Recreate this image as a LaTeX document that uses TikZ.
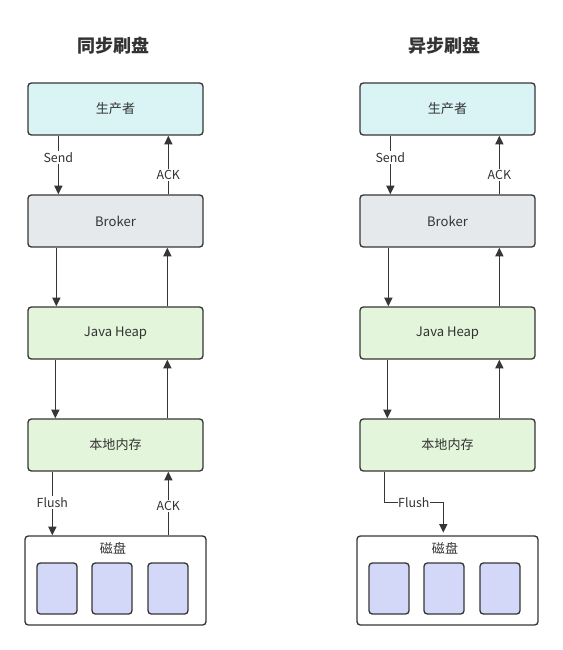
\documentclass[tikz,border=0pt]{standalone}
\usepackage{fontspec}
\setmainfont{Noto Sans CJK SC}
\usepackage{tikz}
\usetikzlibrary{arrows.meta,calc}
\definecolor{edgegray}{HTML}{363636}
\definecolor{txtgray}{HTML}{333333}
\definecolor{prodfill}{HTML}{DAF4F5}
\definecolor{brokerfill}{HTML}{E6E9EC}
\definecolor{memfill}{HTML}{E3F5DA}
\definecolor{blockfill}{HTML}{D4D8F8}

\begin{document}
\begin{tikzpicture}[x=0.75pt,y=0.75pt,yscale=-1,xscale=1,
	box/.style={draw=edgegray, line width=1pt, rounded corners=2.5pt, minimum width=131.25pt, minimum height=39pt, inner sep=0pt, text=txtgray, font=\fontsize{9.8}{11}\selectfont},
	diskbox/.style={draw=edgegray, line width=1pt, rounded corners=2.5pt, fill=white, minimum width=135.75pt, minimum height=66.75pt, inner sep=0pt},
	block/.style={draw=edgegray, line width=1pt, rounded corners=2.5pt, fill=blockfill, minimum width=30pt, minimum height=38.25pt, inner sep=0pt},
	arr/.style={draw=edgegray, line width=1.1pt, -{Triangle[length=6.5pt,width=6pt]}},
	lbl/.style={fill=white, inner sep=1pt, text=txtgray, font=\fontsize{9.3}{10}\selectfont},
	ttl/.style={text=txtgray, font=\fontsize{13.5}{15}\selectfont\bfseries}]
	\useasboundingbox (0,0) rectangle (563,650);

	% Titles
	\node [ttl] (titleL) at (113,46) {同步刷盘};
	\node [ttl] (titleR) at (444,46) {异步刷盘};

	% Left column
	\node [box, fill=prodfill] (prodL) at (115.5,109) {生产者};
	\node [box, fill=brokerfill] (brokerL) at (115.5,221) {Broker};
	\node [box, fill=memfill] (heapL) at (115.5,333) {Java Heap};
	\node [box, fill=memfill] (memL) at (115.5,445) {本地内存};
	\node [diskbox] (diskL) at (115.5,580.5) {};
	\node [text=txtgray, font=\fontsize{9.8}{11}\selectfont] (diskLtxt) at (113,548) {磁盘};
	\node [block] (blkLa) at (57,588.5) {};
	\node [block] (blkLb) at (112,588.5) {};
	\node [block] (blkLc) at (168,588.5) {};

	% Right column
	\node [box, fill=prodfill] (prodR) at (447.5,109) {生产者};
	\node [box, fill=brokerfill] (brokerR) at (447.5,221) {Broker};
	\node [box, fill=memfill] (heapR) at (447.5,333) {Java Heap};
	\node [box, fill=memfill] (memR) at (447.5,445) {本地内存};
	\node [diskbox] (diskR) at (447.5,580.5) {};
	\node [text=txtgray, font=\fontsize{9.8}{11}\selectfont] (diskRtxt) at (445,548) {磁盘};
	\node [block] (blkRa) at (389,588.5) {};
	\node [block] (blkRb) at (444,588.5) {};
	\node [block] (blkRc) at (500,588.5) {};

	%Straight Lines left
	\draw [arr] ($(prodL.south west)+(31,0)$) -- node [lbl, pos=0.37] {Send} ($(brokerL.north west)+(31,0)$);
	\draw [arr] ($(brokerL.north west)+(141,0)$) -- node [lbl, pos=0.33] {ACK} ($(prodL.south west)+(141,0)$);
	\draw [arr] ($(brokerL.south west)+(29,0)$) -- ($(heapL.north west)+(29,0)$);
	\draw [arr] ($(heapL.north west)+(140,0)$) -- ($(brokerL.south west)+(140,0)$);
	\draw [arr] ($(heapL.south west)+(28,0)$) -- ($(memL.north west)+(28,0)$);
	\draw [arr] ($(memL.north west)+(140,0)$) -- ($(heapL.south west)+(140,0)$);
	\draw [arr] ($(memL.south west)+(25,0)$) -- node [lbl, pos=0.48] {Flush} ($(diskL.north west)+(28,0)$);
	\draw [arr] ($(diskL.north west)+(144,0)$) -- node [lbl, pos=0.46] {ACK} ($(memL.south west)+(141,0)$);

	%Straight Lines right
	\draw [arr] ($(prodR.south west)+(31,0)$) -- node [lbl, pos=0.37] {Send} ($(brokerR.north west)+(31,0)$);
	\draw [arr] ($(brokerR.north west)+(140,0)$) -- node [lbl, pos=0.33] {ACK} ($(prodR.south west)+(140,0)$);
	\draw [arr] ($(brokerR.south west)+(29,0)$) -- ($(heapR.north west)+(29,0)$);
	\draw [arr] ($(heapR.north west)+(140,0)$) -- ($(brokerR.south west)+(140,0)$);
	\draw [arr] ($(heapR.south west)+(28,0)$) -- ($(memR.north west)+(28,0)$);
	\draw [arr] ($(memR.north west)+(140,0)$) -- ($(heapR.south west)+(140,0)$);
	\draw [arr, shorten >=2pt] ($(memR.south west)+(25,0)$) -- ++(0,31) -- node [lbl, inner sep=0.5pt] {Flush} ++(59,0) -- ($(diskR.north west)+(87,0)$);
\end{tikzpicture}
\end{document}
